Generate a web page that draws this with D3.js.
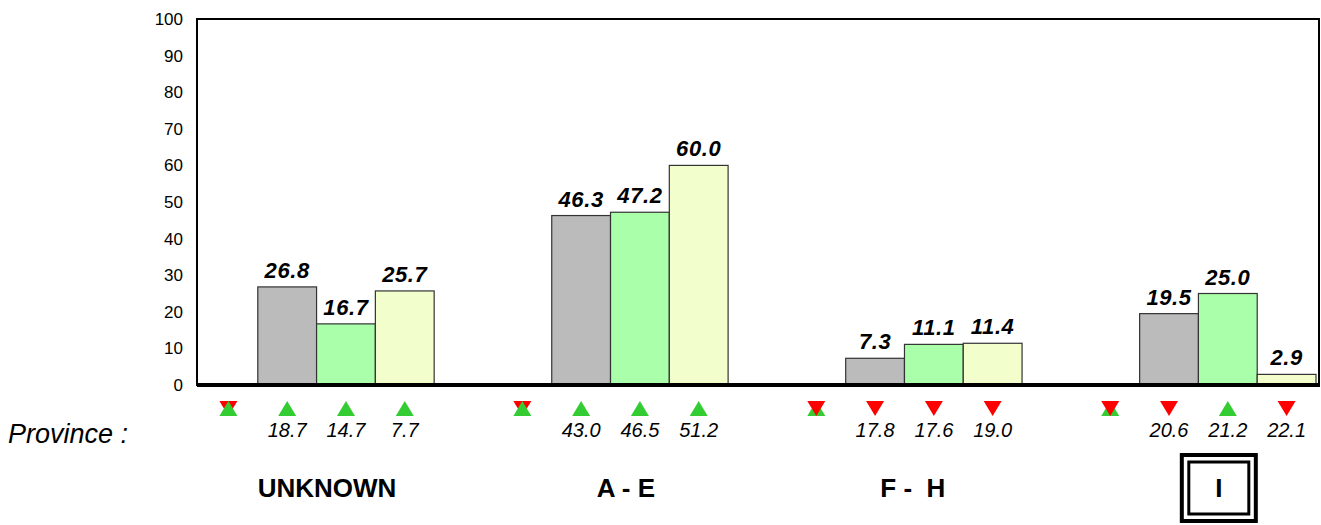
<!DOCTYPE html>
<html><head><meta charset="utf-8">
<script src="https://cdn.jsdelivr.net/npm/d3@7"></script>
<style>body{margin:0;background:#fff;}svg{display:block;font-family:"Liberation Sans",Arial,sans-serif;}</style>
</head><body><svg id="c" width="1321" height="525"></svg>
<script>
const categories = ["UNKNOWN", "A - E", "F -  H", "I"];
const seriesNames = ["s0", "s1", "s2"];
const seriesA = [26.8, 46.3, 7.3, 19.5];
const seriesB = [16.7, 47.2, 11.1, 25.0];
const seriesC = [25.7, 60.0, 11.4, 2.9];
const provinceA = [18.7, 43.0, 17.8, 20.6];
const provinceB = [14.7, 46.5, 17.6, 21.2];
const provinceC = [7.7, 51.2, 19.0, 22.1];
const emptyTop = ["up", "up", "down", "down"];
const yTicks = [0, 10, 20, 30, 40, 50, 60, 70, 80, 90, 100];
const selected = "I";

const colors = ["#bbbbbb", "#aaffaa", "#f2ffcc"];
const series = [seriesA, seriesB, seriesC];
const province = [provinceA, provinceB, provinceC];

const svg = d3.select("#c");
const L = 197, R = 1320, T = 19, B = 385;

const slots = [];
categories.forEach((c, i) => {
  slots.push(c + "|e");
  seriesNames.forEach(s => slots.push(c + "|" + s));
  if (i < categories.length - 1) slots.push(c + "|gap");
});
const x = d3.scaleBand().domain(slots).range([L + 2, R - 4]).padding(0);
const y = d3.scaleLinear().domain([0, 100]).range([B, T]);

svg.append("rect").attr("x", L).attr("y", T).attr("width", R - L - 1).attr("height", B - T)
  .attr("fill", "none").attr("stroke", "#000").attr("stroke-width", 2);

const yAxis = d3.axisLeft(y).tickValues(yTicks).tickSize(0).tickPadding(14).tickFormat(d3.format("d"));
const ga = svg.append("g").attr("transform", `translate(${L},0)`).call(yAxis);
ga.select(".domain").remove();
ga.selectAll("text").attr("font-size", 17).attr("fill", "#000")
  .attr("font-family", "'Liberation Sans',Arial,sans-serif");

const bars = [];
categories.forEach((c, i) => series.forEach((s, j) => bars.push({c, j, v: s[i], p: province[j][i]})));
svg.append("g").selectAll("rect").data(bars).join("rect")
  .attr("x", d => x(d.c + "|" + seriesNames[d.j]))
  .attr("y", d => y(d.v))
  .attr("width", x.bandwidth())
  .attr("height", d => y(0) - y(d.v))
  .attr("fill", d => colors[d.j])
  .attr("stroke", "#333").attr("stroke-width", 1.2);

svg.append("g").selectAll("text").data(bars).join("text")
  .attr("x", d => x(d.c + "|" + seriesNames[d.j]) + x.bandwidth() / 2)
  .attr("y", d => y(d.v) - 9)
  .attr("text-anchor", "middle").attr("font-size", 22).attr("font-weight", "bold")
  .attr("font-style", "italic").attr("fill", "#000").attr("letter-spacing", 0.6)
  .text(d => d.v.toFixed(1));

svg.append("line").attr("x1", L).attr("x2", R).attr("y1", y(0)).attr("y2", y(0))
  .attr("stroke", "#000").attr("stroke-width", 4);

const triTop = 401, triH = 15, triW = 18;
function tri(g, cx, dir) {
  const pts = dir === "up"
    ? [[cx - triW / 2, triTop + triH], [cx + triW / 2, triTop + triH], [cx, triTop]]
    : [[cx - triW / 2, triTop], [cx + triW / 2, triTop], [cx, triTop + triH]];
  g.append("polygon").attr("points", pts.map(p => p.join(",")).join(" "))
    .attr("fill", dir === "up" ? "#33cc33" : "#ff0000");
}
const mg = svg.append("g");
categories.forEach((c, i) => {
  const cx = x(c + "|e") + x.bandwidth() / 2;
  const top = emptyTop[i];
  tri(mg, cx, top === "up" ? "down" : "up");
  tri(mg, cx, top);
});
bars.forEach(d => {
  const cx = x(d.c + "|" + seriesNames[d.j]) + x.bandwidth() / 2;
  tri(mg, cx, d.v >= d.p ? "up" : "down");
});

svg.append("g").selectAll("text").data(bars).join("text")
  .attr("x", d => x(d.c + "|" + seriesNames[d.j]) + x.bandwidth() / 2)
  .attr("y", 437)
  .attr("text-anchor", "middle").attr("font-size", 20).attr("font-style", "italic").attr("fill", "#000")
  .text(d => d.p.toFixed(1));

svg.append("text").attr("x", 8).attr("y", 443).attr("font-size", 27).attr("font-style", "italic")
  .attr("fill", "#000").text("Province :");

const labelOffsets = [-19, -14, -21, -9];
categories.forEach((c, i) => {
  const x0 = x(c + "|" + seriesNames[0]);
  const x1 = x(c + "|" + seriesNames[2]) + x.bandwidth();
  const cx = (x0 + x1) / 2 + labelOffsets[i];
  svg.append("text").attr("x", cx).attr("y", 497).attr("text-anchor", "middle")
    .attr("font-size", 26).attr("font-weight", "bold").attr("fill", "#000")
    .style("white-space", "pre").text(c);
  if (c === selected) {
    svg.append("rect").attr("x", cx - 37).attr("y", 455).attr("width", 74).attr("height", 66)
      .attr("fill", "none").attr("stroke", "#000").attr("stroke-width", 4);
    svg.append("rect").attr("x", cx - 30).attr("y", 462).attr("width", 60).attr("height", 52)
      .attr("fill", "none").attr("stroke", "#000").attr("stroke-width", 3);
  }
});
</script></body></html>
